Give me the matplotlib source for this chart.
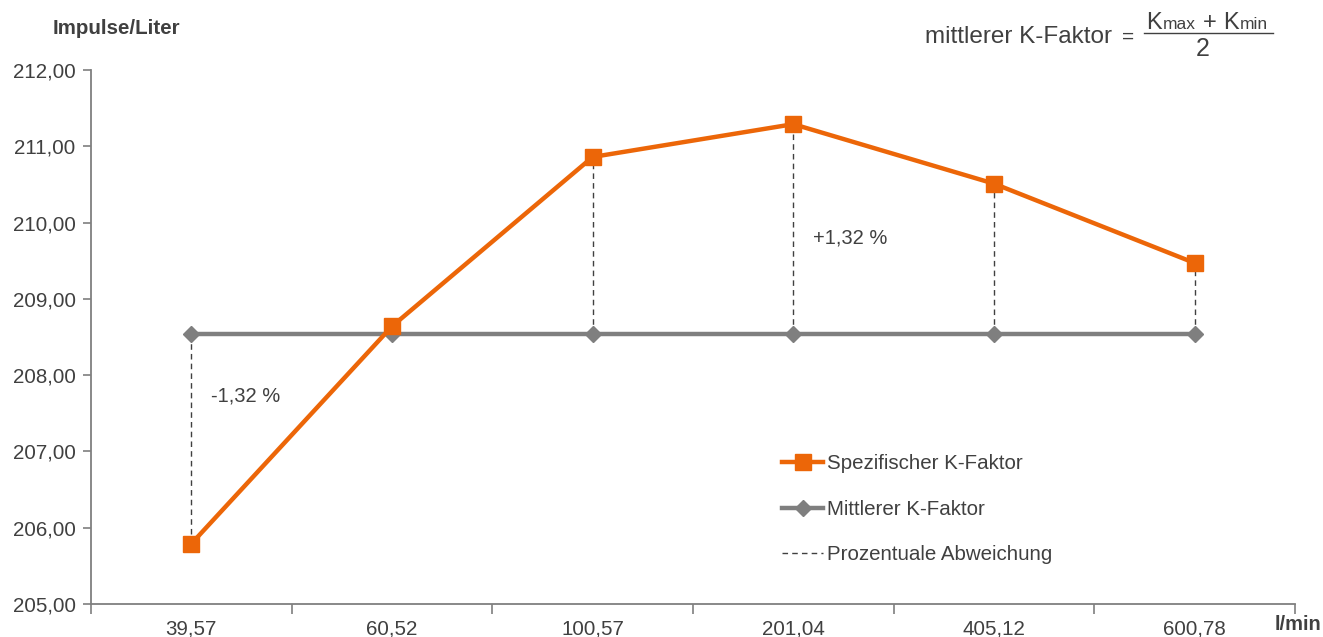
import matplotlib
matplotlib.use("Agg")
import matplotlib.pyplot as plt
from matplotlib.lines import Line2D

plt.rcParams['font.family'] = ['Liberation Sans', 'DejaVu Sans']

categories = ["39,57", "60,52", "100,57", "201,04", "405,12", "600,78"]
spezifisch = [205.79, 208.64, 210.86, 211.29, 210.51, 209.47]
mittlerer = [208.54, 208.54, 208.54, 208.54, 208.54, 208.54]
y_ticks = [205, 206, 207, 208, 209, 210, 211, 212]
y_tick_labels = ["205,00", "206,00", "207,00", "208,00", "209,00", "210,00", "211,00", "212,00"]
label_low = "-1,32 %"
label_high = "+1,32 %"

ORANGE = "#EC6608"
GRAY = "#7F7F7F"
TEXT = "#404040"

W, H = 1323, 637
fig = plt.figure(figsize=(W / 100, H / 100), dpi=100)
ax = fig.add_axes([91 / W, 1 - 604 / H, (1295 - 91) / W, (604 - 70) / H])

x = list(range(len(categories)))

# dashed deviation lines
for xi, s, m in zip(x, spezifisch, mittlerer):
    ax.plot([xi, xi], [m, s], color="#404040", lw=1.0, ls=(0, (4, 3)), zorder=2)

ax.plot(x, mittlerer, color=GRAY, lw=3.2, marker="D", ms=8, mfc=GRAY, mec=GRAY, zorder=3)
ax.plot(x, spezifisch, color=ORANGE, lw=3.2, marker="s", ms=11, mfc=ORANGE, mec=ORANGE, zorder=4)

ax.set_xlim(-0.5, len(categories) - 0.5)
ax.set_ylim(205, 212)
ax.set_yticks(y_ticks)
ax.set_yticklabels(y_tick_labels)
ax.set_xticks(x)
ax.set_xticklabels(categories)
ax.set_xticks([i - 0.5 for i in range(len(categories) + 1)], minor=True)

for sp in ["top", "right"]:
    ax.spines[sp].set_visible(False)
for sp in ["left", "bottom"]:
    ax.spines[sp].set_color(GRAY)
    ax.spines[sp].set_linewidth(1.3)

ax.tick_params(axis="y", direction="out", length=6, width=1.2, color=GRAY,
               labelsize=14.8, labelcolor=TEXT, pad=5)
ax.tick_params(axis="x", which="major", length=0, labelsize=14.8, labelcolor=TEXT, pad=11)
ax.tick_params(axis="x", which="minor", direction="out", length=7, width=1.2, color=GRAY)

# annotations
ax.text(0.1, 207.73, label_low, fontsize=14.5, color=TEXT, va="center", ha="left")
ax.text(3.1, 209.80, label_high, fontsize=14.5, color=TEXT, va="center", ha="left")

# axis titles
fig.text(53 / W, 1 - 29 / H, "Impulse/Liter", fontsize=14.8, fontweight="bold",
         color=TEXT, ha="left", va="center")
fig.text(1275 / W, 1 - 625 / H, "l/min", fontsize=14.5, fontweight="bold",
         color=TEXT, ha="left", va="center")

# legend
handles = [
    Line2D([], [], color=ORANGE, lw=3.2, marker="s", ms=11, mfc=ORANGE, mec=ORANGE),
    Line2D([], [], color=GRAY, lw=3.2, marker="D", ms=8, mfc=GRAY, mec=GRAY),
    Line2D([], [], color="#404040", lw=1.0, ls=(0, (4, 3))),
]
labels = ["Spezifischer K-Faktor", "Mittlerer K-Faktor", "Prozentuale Abweichung"]
leg = ax.legend(handles, labels, loc="upper left",
                bbox_to_anchor=((782 - 91) / (1295 - 91), (604 - 454) / (604 - 70)),
                frameon=False, fontsize=14.8, handlelength=2.0, handletextpad=0.2,
                labelspacing=1.3, borderaxespad=0, borderpad=0)
for t in leg.get_texts():
    t.set_color(TEXT)

# formula
def fx(px):
    return px / W

def fy(py):
    return 1 - py / H

fig.text(fx(925), fy(37), "mittlerer K-Faktor", fontsize=17.5, color=TEXT, ha="left", va="center")
fig.text(fx(1128), fy(37), "=", fontsize=15, color=TEXT, ha="center", va="center")
fig.add_artist(Line2D([fx(1144), fx(1273)], [fy(33), fy(33)], color=TEXT, lw=1.0))
# numerator pieces
fig.text(fx(1146), fy(29), "K", fontsize=17, color=TEXT, ha="left", va="baseline")
fig.text(fx(1163), fy(29), "max", fontsize=12.5, color=TEXT, ha="left", va="baseline")
fig.text(fx(1210), fy(29), "+", fontsize=17, color=TEXT, ha="center", va="baseline")
fig.text(fx(1223), fy(29), "K", fontsize=17, color=TEXT, ha="left", va="baseline")
fig.text(fx(1240), fy(29), "min", fontsize=12.5, color=TEXT, ha="left", va="baseline")
fig.text(fx(1203), fy(49), "2", fontsize=18, color=TEXT, ha="center", va="center")

fig.savefig("out.png", dpi=100, facecolor="white")
